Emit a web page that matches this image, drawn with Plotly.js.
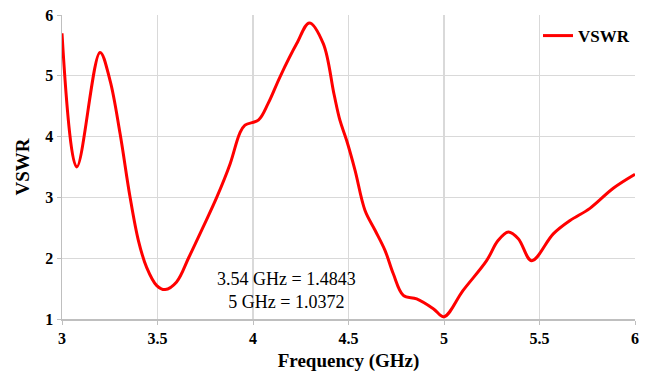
<!DOCTYPE html>
<html>
<head>
<meta charset="utf-8">
<script src="https://cdn.plot.ly/plotly-3.0.1.min.js"></script>
<style>
  html, body { margin: 0; padding: 0; background: #ffffff; }
  #chart { width: 649px; height: 376px; }
</style>
</head>
<body>
<div id="chart"></div>
<script>
// Frequency sweep (GHz) and measured VSWR
const freqGHz = [3.0, 3.077, 3.199, 3.251, 3.304, 3.356, 3.40, 3.443,
  3.496, 3.54, 3.60, 3.665, 3.74, 3.81, 3.88, 3.93, 3.958, 4.028,
  4.08, 4.141, 4.229, 4.295, 4.368, 4.424, 4.455, 4.49, 4.534, 4.586,
  4.639, 4.691, 4.735, 4.787, 4.857, 4.944, 5.0, 5.10, 5.223, 5.283,
  5.337, 5.389, 5.459, 5.572, 5.66, 5.764, 5.886, 6.0];
const vswr = [5.70, 3.50, 5.385, 4.93, 4.05, 3.01, 2.29, 1.85,
  1.55, 1.4843, 1.61, 2.02, 2.52, 3.0, 3.55, 4.05, 4.19, 4.27,
  4.55, 4.98, 5.53, 5.87, 5.53, 4.70, 4.27, 3.94, 3.45, 2.79,
  2.46, 2.13, 1.74, 1.39, 1.33, 1.17, 1.0372, 1.47, 1.96, 2.29,
  2.43, 2.32, 1.96, 2.40, 2.62, 2.82, 3.15, 3.38];
const markerNotes = ["3.54 GHz = 1.4843", "5 GHz = 1.0372"];

const serif = "Liberation Serif, Times New Roman, serif";

const trace = {
  x: freqGHz,
  y: vswr,
  type: "scatter",
  mode: "lines",
  name: "VSWR",
  line: { color: "#ff0000", width: 3, shape: "spline", smoothing: 1 }
};

const layout = {
  width: 649,
  height: 376,
  margin: { l: 62, r: 14, t: 15, b: 57 },
  paper_bgcolor: "#ffffff",
  plot_bgcolor: "#ffffff",
  font: { family: serif, color: "#000000" },
  showlegend: true,
  legend: {
    x: 1, xanchor: "right", y: 0.99, yanchor: "top",
    bgcolor: "rgba(0,0,0,0)",
    font: { family: serif, size: 17, weight: "bold", color: "#000000" }
  },
  xaxis: {
    range: [3, 6],
    dtick: 0.5,
    tick0: 3,
    showgrid: true,
    gridcolor: "#d9d9d9",
    gridwidth: 1.3,
    showline: true,
    linecolor: "#bfbfbf",
    linewidth: 1.5,
    ticks: "outside",
    ticklen: 4,
    tickcolor: "#bfbfbf",
    zeroline: false,
    tickfont: { family: serif, size: 16, weight: "bold", color: "#000000" },
    title: {
      text: "Frequency (GHz)",
      font: { family: serif, size: 19, weight: "bold", color: "#000000" },
      standoff: 8
    }
  },
  yaxis: {
    range: [1, 6],
    dtick: 1,
    showgrid: true,
    gridcolor: "#d9d9d9",
    gridwidth: 1.3,
    showline: true,
    linecolor: "#bfbfbf",
    linewidth: 1.5,
    ticks: "outside",
    ticklen: 4,
    tickcolor: "#bfbfbf",
    zeroline: false,
    tickfont: { family: serif, size: 16, weight: "bold", color: "#000000" },
    title: {
      text: "VSWR",
      font: { family: serif, size: 19, weight: "bold", color: "#000000" },
      standoff: 10
    }
  },
  annotations: [{
    x: 4.173, y: 1.47, xref: "x", yref: "y",
    text: markerNotes.join("<br>"),
    showarrow: false,
    align: "center",
    font: { family: serif, size: 18, color: "#000000" }
  }]
};

Plotly.newPlot("chart", [trace], layout, { displayModeBar: false, staticPlot: true });
</script>
</body>
</html>
